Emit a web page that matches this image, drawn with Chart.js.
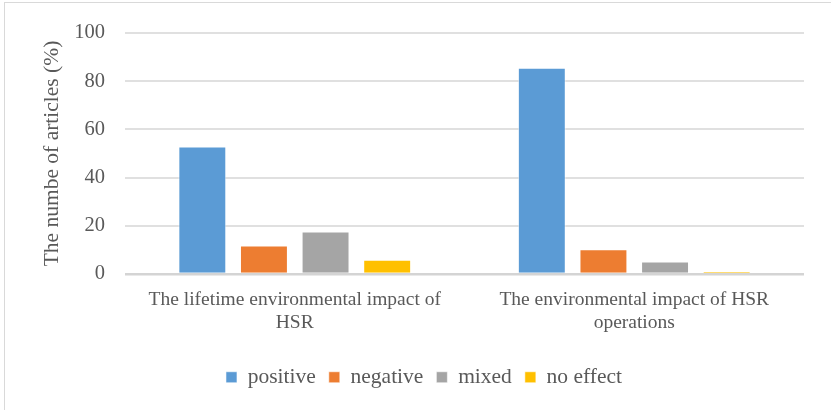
<!DOCTYPE html>
<html>
<head>
<meta charset="utf-8">
<script src="https://cdn.jsdelivr.net/npm/chart.js@4/dist/chart.umd.min.js"></script>
<style>
  html, body { margin: 0; padding: 0; background: #ffffff; overflow: hidden; }
  #wrap { position: relative; width: 831px; height: 410px; }
  #frame { position: absolute; left: 4px; top: 2px; width: 900px; height: 500px;
           border: 1.5px solid #d9d9d9; box-sizing: border-box; pointer-events: none; }
  canvas { position: absolute; left: 0; top: 0; }
</style>
</head>
<body>
<div id="wrap">
  <div id="frame"></div>
  <canvas id="c" width="831" height="410"></canvas>
</div>
<script>
// Categories (multi-line axis labels)
const categories = [
  ["The lifetime environmental impact of", "HSR"],
  ["The environmental impact of HSR", "operations"]
];

// Share of articles per finding (%)
const positive  = [52.9, 85.6];
const negative  = [11.8, 10.3];
const mixed     = [17.6, 5.2];
const noEffect  = [5.9, 1.1];

const seriesNames = ["positive", "negative", "mixed", "no effect"];
const seriesColors = ["#5b9bd5", "#ed7d31", "#a5a5a5", "#ffc000"];

const yTicks = [0, 20, 40, 60, 80, 100];

const textColor = "#595959";
const serif = "'Liberation Serif', 'Times New Roman', serif";

Chart.defaults.font.family = serif;
Chart.defaults.color = textColor;

const seriesValues = [positive, negative, mixed, noEffect];

const datasets = seriesNames.map((name, i) => ({
  label: name,
  data: seriesValues[i],
  backgroundColor: seriesColors[i],
  borderColor: "rgba(255,255,255,0.55)",
  borderWidth: 1,
  categoryPercentage: 0.726,
  barPercentage: 0.778
}));

// Nudge the legend row so it sits a little right of the chart centre
const legendShift = {
  id: "legendShift",
  afterLayout(chart) {
    const lg = chart.legend;
    if (lg) { lg.left += 20; lg.right += 20; }
  }
};

new Chart(document.getElementById("c"), {
  type: "bar",
  data: { labels: categories, datasets },
  plugins: [legendShift],
  options: {
    responsive: false,
    devicePixelRatio: 1,
    animation: false,
    layout: { padding: { left: 4, top: 33, right: 27, bottom: 12 } },
    plugins: {
      tooltip: { enabled: false },
      legend: {
        position: "bottom",
        labels: {
          color: textColor,
          font: { family: serif, size: 21.5 },
          boxWidth: 11,
          boxHeight: 11,
          padding: 13
        }
      }
    },
    scales: {
      x: {
        grid: { display: false },
        border: { display: false },
        ticks: {
          color: textColor,
          font: { family: serif, size: 19.5, lineHeight: 1.18 },
          padding: 6,
          maxRotation: 0,
          autoSkip: false
        },
        afterFit: (scale) => { scale.height = 79.5; }
      },
      y: {
        min: 0,
        max: 100,
        afterBuildTicks: (scale) => { scale.ticks = yTicks.map(v => ({ value: v })); },
        grid: {
          drawTicks: false,
          color: (ctx) => ctx.tick && ctx.tick.value === 0 ? "#d4d4d4" : "#e0e0e0",
          lineWidth: (ctx) => ctx.tick && ctx.tick.value === 0 ? 2.5 : 2
        },
        border: { display: false },
        ticks: {
          color: textColor,
          font: { family: serif, size: 20.5 },
          padding: 20
        },
        title: {
          display: true,
          text: "The numbe of articles (%)",
          color: textColor,
          font: { family: serif, size: 21.5 },
          padding: { top: 35, bottom: 0 }
        },
        afterFit: (scale) => { scale.width = 121; }
      }
    }
  }
});
</script>
</body>
</html>
